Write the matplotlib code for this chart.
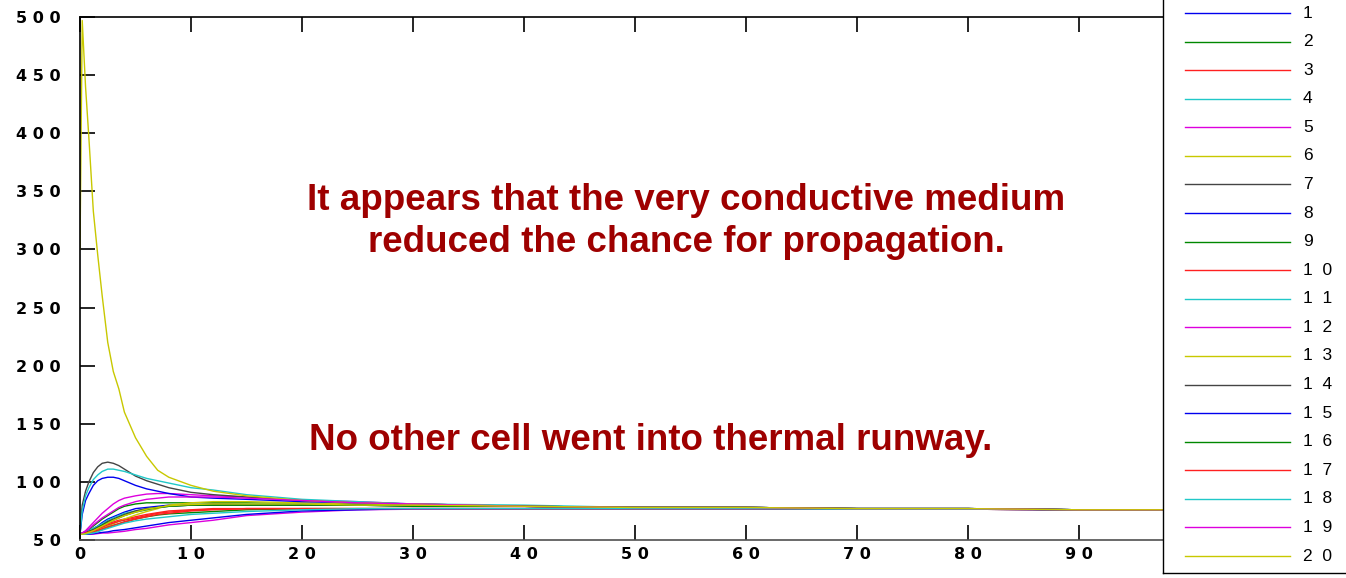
import numpy as np
import matplotlib
matplotlib.use("Agg")
import matplotlib.pyplot as plt

# sample times shared by all cells
t = [0, 0.2, 0.5, 0.8, 1.2, 1.6, 2, 2.5, 3, 3.5, 4, 5, 6, 7, 8, 10, 12, 15,
     20, 25, 30, 40, 50, 60, 70, 80, 90, 100]

# temperature of each cell
c1 = [55, 56, 57, 58, 60, 62, 65, 68, 70, 72, 74, 77, 78, 79, 80, 80, 81, 81, 81, 80, 80, 79, 78, 78, 77, 77, 76, 76]
c2 = [55, 56, 57, 59, 62, 65, 68, 71, 74, 77, 79, 81, 82, 82, 82, 82, 82, 82, 81, 80, 80, 79, 78, 78, 77, 77, 76, 76]
c3 = [55, 55.5, 56, 57, 58.5, 60, 62, 64, 65.5, 67, 68, 70, 72, 73.5, 75, 76, 77, 77, 77, 77, 77, 77, 77, 77, 76.5, 76.5, 76, 76]
c4 = [55, 55.5, 56.5, 58, 60, 62, 64, 67, 69, 71, 73, 75, 77, 78, 79, 80, 80, 81, 81, 80, 80, 79, 78, 78, 77, 77, 76, 76]
c5 = [55, 56, 58, 61, 65, 69, 73, 77, 81, 84, 86, 88, 89.5, 90, 90, 89, 88, 87, 84, 83, 81, 79, 78, 78, 77, 77, 76, 76]
c6 = [55, 55, 55.5, 56, 57, 58.5, 60, 62, 64, 66, 68, 71.5, 74.5, 77, 80, 82, 83, 83, 82, 81, 80, 79, 78, 78, 77, 77, 76, 76]
c7 = [55, 80, 92, 100, 108, 113, 116, 117, 116, 114, 111, 105, 101, 98, 95, 91, 89, 87, 84, 82, 81, 79, 78, 78, 77, 77, 76, 76]
c8 = [55, 72, 84, 90, 97, 101, 103, 104, 104, 103, 101, 97, 94, 92, 90, 87, 86, 85, 83, 82, 81, 79, 78, 78, 77, 77, 76, 76]
c9 = [55, 55, 55.5, 56, 57, 58, 59, 61, 62.5, 64, 65.5, 68, 70, 71.5, 72.5, 73.5, 74.5, 76, 77, 77, 77, 77, 77, 77, 76.5, 76.5, 76, 76]
c10 = [55, 55, 55.5, 56, 57, 58, 59.5, 61, 62.5, 64, 65.5, 68, 70, 72, 73, 75, 76, 77, 77, 77, 77, 77, 77, 77, 76.5, 76.5, 76, 76]
c11 = [55, 75, 88, 95, 102, 106, 109, 111, 111, 110, 109, 106, 103, 101, 99, 95, 93, 89, 85, 83, 81, 80, 78, 78, 77, 77, 76, 76]
c12 = [55, 55, 55, 55, 55, 55.5, 56, 56, 56.5, 57, 57.5, 59, 60, 61.5, 63, 65, 67, 71, 74, 76, 76.5, 77, 77, 77, 76.5, 76.5, 76, 76]
c13 = [300, 497, 440, 396, 333, 295, 260, 220, 195, 180, 160, 138, 122, 110, 104, 97, 92, 88, 84, 82, 81, 79, 78, 78, 77, 77, 76, 76]
c14 = [55, 55.5, 56.5, 57.5, 59, 61, 63, 66, 68, 70, 72, 75, 77, 78, 79, 80, 80, 80, 80, 80, 79, 79, 78, 78, 77, 77, 76, 76]
c15 = [55, 55, 55, 55, 55.5, 56, 56.5, 57, 58, 58.5, 59, 60.5, 62, 63.5, 65, 67, 69, 72, 75, 76, 77, 77, 77, 77, 76.5, 76.5, 76, 76]
c16 = [55, 55.5, 56, 57, 58.5, 60.5, 62.5, 65, 67, 69, 71, 74, 76, 78, 79, 80, 80, 80, 80, 80, 79, 79, 78, 78, 77, 77, 76, 76]
c17 = [55, 55, 56, 57, 58, 59.5, 61, 63, 64.5, 66, 67, 69, 71, 73, 74, 75.5, 76.5, 77, 77, 77, 77, 77, 77, 77, 76.5, 76.5, 76, 76]
c18 = [55, 55, 55, 55.5, 56, 57, 58.5, 60, 61.5, 63, 64.5, 66.5, 68, 69, 70, 72, 73, 74.5, 76, 77, 77, 77, 77, 77, 76.5, 76.5, 76, 76]
c19 = [55, 56, 57.5, 59.5, 63, 66, 69, 72, 75, 78, 80, 83, 85, 86, 87, 87, 87, 86, 84, 82, 81, 79, 78, 78, 77, 77, 76, 76]
c20 = [55, 55, 55.5, 56.5, 58, 60, 62, 64.5, 67, 69, 71, 74, 76.5, 78, 79.5, 80.5, 81, 81, 81, 80, 80, 79, 78, 78, 77, 77, 76, 76]

cells = [c1, c2, c3, c4, c5, c6, c7, c8, c9, c10,
         c11, c12, c13, c14, c15, c16, c17, c18, c19, c20]
names = [' '.join(str(i + 1)) for i in range(20)]

colores = ['#0000ee', '#008800', '#ff2020', '#20c8c8', '#dd00dd', '#c8c800', '#444444']

xticks = [0, 10, 20, 30, 40, 50, 60, 70, 80, 90, 100]
yticks = [50, 100, 150, 200, 250, 300, 350, 400, 450, 500]

W, H = 1346, 578
fig = plt.figure(figsize=(W / 100, H / 100), dpi=100)
ax = fig.add_axes([80 / W, (H - 540) / H, 1110 / W, 523 / H])

for i, c in enumerate(cells):
    ax.plot(t, c, color=colores[i % 7], lw=1.0)

ax.set_xlim(0, 100)
ax.set_ylim(50, 500)
ax.set_xticks(xticks, [' '.join(str(v)) for v in xticks])
ax.set_yticks(yticks, [' '.join(str(v)) for v in yticks])
ax.tick_params(direction='in', length=11, width=1.2, top=True, right=True,
               labelsize=11.5, colors='black')
ax.tick_params(axis='y', pad=14)
ax.tick_params(axis='x', pad=5)
for lb in ax.get_xticklabels() + ax.get_yticklabels():
    lb.set_fontweight('bold')
for s in ax.spines.values():
    s.set_linewidth(1.2)
ax.spines['bottom'].set_color('#505050')

# textos sobre la grafica
rojo = '#9e0000'
fuente = ['Liberation Sans', 'DejaVu Sans']
fig.text(686 / W, 1 - 200 / H, 'It appears that the very conductive medium',
         ha='center', va='center', fontsize=26.5, fontweight='bold', color=rojo, family=fuente)
fig.text(686 / W, 1 - 243 / H, 'reduced the chance for propagation.',
         ha='center', va='center', fontsize=26.5, fontweight='bold', color=rojo, family=fuente)
fig.text(651 / W, 1 - 440 / H, 'No other cell went into thermal runway.',
         ha='center', va='center', fontsize=26.5, fontweight='bold', color=rojo, family=fuente)

# leyenda a la derecha
lax = fig.add_axes([1163 / W, (H - 573) / H, 250 / W, 700 / H])
lax.set_xlim(0, 250)
lax.set_ylim(0, 700)
lax.set_xticks([])
lax.set_yticks([])
for s in ['top', 'right']:
    lax.spines[s].set_visible(False)
for s in ['left', 'bottom']:
    lax.spines[s].set_linewidth(1.0)
for i in range(20):
    yy = 573 - (13 + i * 28.58)
    lax.plot([22, 127], [yy, yy], color=colores[i % 7], lw=1.0)
    lax.text(140, yy, names[i].replace(' ', '  '), va='center', ha='left', fontsize=12.5,
             family=['Liberation Sans', 'DejaVu Sans'])

fig.savefig('out.png', dpi=100)
